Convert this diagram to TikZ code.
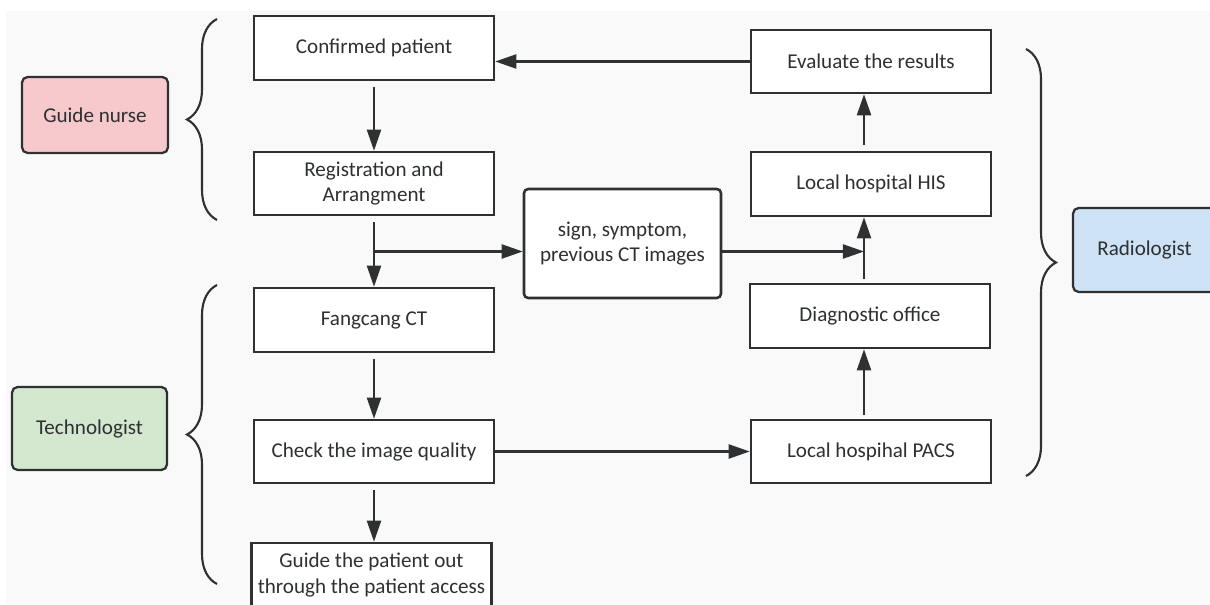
\documentclass[tikz,border=0pt]{standalone}
\usepackage{fontspec}
\setmainfont{Carlito}
\usepackage{xcolor}
\definecolor{nursepink}{HTML}{F8C9CC}
\definecolor{techgreen}{HTML}{D4E7CF}
\definecolor{radioblue}{HTML}{CDE2F4}
\definecolor{edgegray}{HTML}{2E3032}
\definecolor{paper}{HTML}{F9F9FA}
\usepackage{tikz}
\usetikzlibrary{positioning,arrows.meta,calc,decorations.pathreplacing}

\begin{document}
\begin{tikzpicture}[
    font=\fontsize{15}{18}\selectfont, text=edgegray,
    stepbox/.style={draw=edgegray, line width=1.8pt, fill=white, minimum width=6cm,
                    minimum height=1.6cm, align=center, inner sep=1pt},
    rolebox/.style={draw=edgegray, line width=1.6pt, rounded corners=4pt, align=center},
    flow/.style={draw=edgegray, line width=1.5pt, -{Triangle[length=15pt,width=10pt]}},
    group/.style={draw=edgegray, line width=1.5pt, decorate,
                  decoration={brace, amplitude=0.75cm}}]
    \useasboundingbox (0,0) rectangle (30.25,15.125);
    \fill[paper] (0.15,0) rectangle (30.25,14.85);
    % roles
    \node[rolebox, fill=nursepink, minimum width=3.65cm, minimum height=1.9cm] (nurse) at (2.375,12.25) {Guide nurse};
    \node[rolebox, fill=techgreen, minimum width=3.875cm, minimum height=2.075cm] (tech) at (2.2375,4.4125) {Technologist};
    \node[rolebox, fill=radioblue, minimum width=3.575cm, minimum height=2.1cm] (radio) at (28.6125,8.875) {Radiologist};
    % left column
    \node[stepbox] (confirmed) at (9.35,13.925) {Confirmed patient};
    \node[stepbox, minimum height=1.575cm] (regist) at (9.35,10.5375) {Registration and\\Arrangment};
    \node[stepbox] (fangcang) at (9.35,7.125) {Fangcang CT};
    \node[stepbox, minimum height=1.575cm] (check) at (9.35,3.8375) {Check the image quality};
    \node[stepbox] (guideout) at (9.2875,0.75) {Guide the patient out\\through the patient access};
    % middle and right column
    \node[stepbox, rounded corners=3pt, minimum width=4.925cm, minimum height=2.725cm] (sign) at (15.5625,9.0375) {sign, symptom,\\previous CT images};
    \node[stepbox, minimum height=1.575cm] (evaluate) at (21.775,13.5875) {Evaluate the results};
    \node[stepbox] (his) at (21.775,10.525) {Local hospital HIS};
    \node[stepbox] (diag) at (21.75,7.225) {Diagnostic office};
    \node[stepbox, minimum height=1.575cm] (pacs) at (21.775,3.8375) {Local hospihal PACS};
    \coordinate (spine) at (21.6,0);
    \coordinate (split) at ($(regist.south)!0.5!(fangcang.north)$);
    % arrows
    \draw[flow] ([yshift=-0.15cm]confirmed.south) -- (regist.north);
    \draw[flow] ([yshift=-0.15cm]regist.south) -- (fangcang.north);
    \draw[flow] (split) -- (split -| sign.west);
    \draw[flow] (split -| sign.east) -- (split -| spine);
    \draw[flow] ([yshift=-0.15cm]fangcang.south) -- (check.north);
    \draw[flow] ([yshift=-0.15cm]check.south) -- (check.south |- guideout.north);
    \draw[flow] (check.east) -- (pacs.west);
    \draw[flow] ([yshift=0.1cm]pacs.north -| spine) -- (diag.south -| spine);
    \draw[flow] ([yshift=0.1cm]diag.north -| spine) -- (his.south -| spine);
    \draw[flow] ([yshift=0.15cm]his.north -| spine) -- (evaluate.south -| spine);
    \draw[flow] (evaluate.west) -- (evaluate.west -| confirmed.east);
    % braces
    \draw[group] (5.425,9.625) -- (5.425,14.65);
    \draw[group] (5.425,0.525) -- (5.425,8.0);
    \draw[group] (25.65,13.9) -- (25.65,3.225);
\end{tikzpicture}
\end{document}
